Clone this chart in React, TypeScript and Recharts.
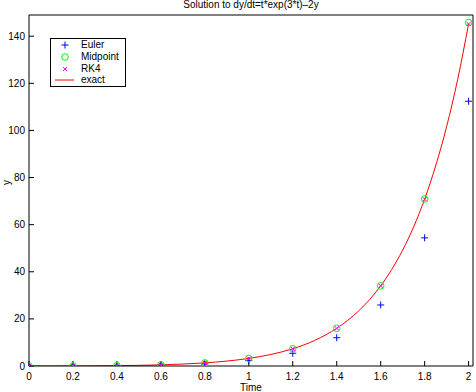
import React from 'react';
import { ComposedChart, Scatter, Line, XAxis, YAxis, Legend } from 'recharts';

// ---- data ----
const stepTimes = [0, 0.2, 0.4, 0.6, 0.8, 1.0, 1.2, 1.4, 1.6, 1.8, 2.0];
const eulerValues = [0, 0, 0.07, 0.31, 0.91, 2.31, 5.4, 12.0, 25.9, 54.4, 112.4];
const midpointValues = [0, 0.03, 0.15, 0.5, 1.33, 3.22, 7.3, 16.0, 34.0, 70.9, 145.8];
const rk4Values = [0, 0.03, 0.15, 0.5, 1.33, 3.22, 7.32, 16.0, 34.0, 70.8, 145.2];
const exactTimes = [0, 0.1, 0.2, 0.3, 0.4, 0.5, 0.6, 0.7, 0.8, 0.9, 1.0, 1.1, 1.2, 1.3, 1.4, 1.45, 1.5, 1.55, 1.6, 1.65, 1.7, 1.75, 1.8, 1.85, 1.9, 1.95, 2.0];
const exactValues = [0, 0.006, 0.027, 0.071, 0.151, 0.284, 0.496, 0.827, 1.331, 2.09, 3.219, 4.885, 7.323, 10.871, 16.007, 19.37, 23.406, 28.24, 34.025, 40.94, 49.207, 59.08, 70.852, 84.89, 101.62, 121.53, 145.23];
const xTicks = [0, 0.2, 0.4, 0.6, 0.8, 1, 1.2, 1.4, 1.6, 1.8, 2];
const yTicks = [0, 20, 40, 60, 80, 100, 120, 140];
const legendNames = ['Euler', 'Midpoint', 'RK4', 'exact'];
const titleText = 'Solution to dy/dt=t*exp(3*t)\u20132y';
const xLabelText = 'Time';
const yLabelText = 'y';

const eulerData = stepTimes.map((t, i) => ({ t, y: eulerValues[i] }));
const midpointData = stepTimes.map((t, i) => ({ t, y: midpointValues[i] }));
const rk4Data = stepTimes.map((t, i) => ({ t, y: rk4Values[i] }));
const exactData = exactTimes.map((t, i) => ({ t, y: exactValues[i] }));

const FONT = '"Liberation Sans", Arial, Helvetica, sans-serif';
const BLUE = '#0000ff';
const GREEN = '#00ff00';
const MAGENTA = '#ff00ff';
const RED = '#ff0000';

const PlusMark = ({ cx, cy }: any) => {
  if (cx == null || cy == null) return null;
  return (
    <g>
      <line x1={cx - 3.5} y1={cy} x2={cx + 3.5} y2={cy} stroke={BLUE} strokeWidth={1} />
      <line x1={cx} y1={cy - 3.5} x2={cx} y2={cy + 3.5} stroke={BLUE} strokeWidth={1} />
    </g>
  );
};

const CircleMark = ({ cx, cy }: any) => {
  if (cx == null || cy == null) return null;
  return <circle cx={cx} cy={cy} r={3.3} fill="none" stroke={GREEN} strokeWidth={1} />;
};

const CrossMark = ({ cx, cy }: any) => {
  if (cx == null || cy == null) return null;
  return (
    <g>
      <line x1={cx - 2} y1={cy - 2} x2={cx + 2} y2={cy + 2} stroke={MAGENTA} strokeWidth={1} />
      <line x1={cx - 2} y1={cy + 2} x2={cx + 2} y2={cy - 2} stroke={MAGENTA} strokeWidth={1} />
    </g>
  );
};

const LegendBox = () => {
  const rows = [7, 19, 31, 42];
  const mx = 15;
  return (
    <div
      style={{
        position: 'relative',
        width: 76,
        height: 49,
        border: '1px solid #000',
        boxSizing: 'border-box',
        background: '#fff',
        fontFamily: FONT,
        fontSize: 10,
        color: '#000',
      }}
    >
      <svg width={30} height={49} style={{ position: 'absolute', left: -1, top: -1 }}>
        <PlusMark cx={mx} cy={rows[0]} />
        <CircleMark cx={mx} cy={rows[1]} />
        <CrossMark cx={mx} cy={rows[2]} />
        <line x1={5} y1={rows[3]} x2={24} y2={rows[3]} stroke={RED} strokeWidth={1} />
      </svg>
      {legendNames.map((name, i) => (
        <div
          key={name}
          style={{
            position: 'absolute',
            left: 30,
            top: rows[i] - 1 - 6,
            lineHeight: '12px',
            whiteSpace: 'nowrap',
          }}
        >
          {name}
        </div>
      ))}
    </div>
  );
};

const YLabel = ({ viewBox }: any) => {
  const x = 9.5;
  const y = viewBox.y + viewBox.height / 2 - 8;
  return (
    <text
      x={x}
      y={y}
      transform={`rotate(-90, ${x}, ${y})`}
      textAnchor="middle"
      fontFamily={FONT}
      fontSize={10}
      fill="#000"
    >
      {yLabelText}
    </text>
  );
};

export default function App() {
  const tickStyle = { fontFamily: FONT, fontSize: 10, fill: '#000' };
  return (
    <div style={{ position: 'absolute', left: 0, top: 0, background: '#fff' }}>
      <ComposedChart width={476} height={392} margin={{ top: 0, right: 0, bottom: 0, left: 0 }}>
        <XAxis
          xAxisId="bottom"
          dataKey="t"
          type="number"
          orientation="bottom"
          domain={[0, 2.02]}
          allowDataOverflow
          ticks={xTicks}
          height={26}
          tickSize={-5}
          tickMargin={12}
          tick={tickStyle}
          stroke="#000"
          axisLine={{ stroke: '#000' }}
          tickLine={{ stroke: '#000' }}
          tickFormatter={(v: number) => String(v)}
          label={{ value: xLabelText, position: 'insideBottom', offset: 1, style: { fontFamily: FONT, fontSize: 10, fill: '#000' } }}
        />
        <XAxis
          xAxisId="top"
          dataKey="t"
          type="number"
          orientation="top"
          domain={[0, 2.02]}
          allowDataOverflow
          ticks={xTicks}
          height={15}
          tickSize={-5}
          tick={false}
          axisLine={{ stroke: '#000' }}
          tickLine={{ stroke: '#000' }}
          label={{ value: titleText, position: 'insideTop', offset: 1, style: { fontFamily: FONT, fontSize: 10, fill: '#000' } }}
        />
        <YAxis
          yAxisId="left"
          type="number"
          orientation="left"
          domain={[0, 149]}
          allowDataOverflow
          ticks={yTicks}
          width={29}
          tickSize={-5}
          tickMargin={9}
          tick={tickStyle}
          axisLine={{ stroke: '#000' }}
          tickLine={{ stroke: '#000' }}
          label={<YLabel />}
        />
        <YAxis
          yAxisId="right"
          type="number"
          orientation="right"
          domain={[0, 149]}
          allowDataOverflow
          ticks={yTicks}
          width={3}
          tickSize={-5}
          tick={false}
          axisLine={{ stroke: '#000' }}
          tickLine={{ stroke: '#000' }}
        />
        <Scatter
          name="Euler"
          data={eulerData}
          dataKey="y"
          xAxisId="bottom"
          yAxisId="left"
          shape={<PlusMark />}
          isAnimationActive={false}
        />
        <Scatter
          name="Midpoint"
          data={midpointData}
          dataKey="y"
          xAxisId="bottom"
          yAxisId="left"
          shape={<CircleMark />}
          isAnimationActive={false}
        />
        <Scatter
          name="RK4"
          data={rk4Data}
          dataKey="y"
          xAxisId="bottom"
          yAxisId="left"
          shape={<CrossMark />}
          isAnimationActive={false}
        />
        <Line
          name="exact"
          data={exactData}
          dataKey="y"
          xAxisId="top"
          yAxisId="right"
          type="monotone"
          stroke={RED}
          strokeWidth={1}
          dot={false}
          activeDot={false}
          isAnimationActive={false}
        />
        <Legend
          layout="vertical"
          verticalAlign="middle"
          align="center"
          content={<LegendBox />}
          wrapperStyle={{ left: 50, top: 38, width: 76, height: 49 }}
        />
      </ComposedChart>
    </div>
  );
}
